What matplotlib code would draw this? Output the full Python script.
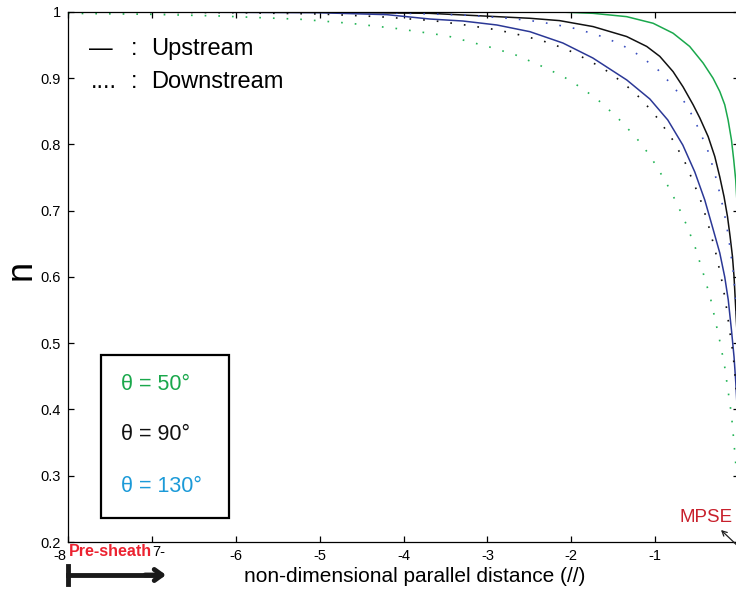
import matplotlib
matplotlib.use("Agg")
import matplotlib.pyplot as plt
from matplotlib.lines import Line2D

plt.rcParams['font.family'] = ['Liberation Sans', 'DejaVu Sans']

# Density profiles along the parallel direction
x_up_50 = [-8, -2.14, -1.74, -1.34, -1.024, -0.786, -0.588, -0.428, -0.309, -0.229,
           -0.170, -0.130, -0.090, -0.063, -0.039, 0]
n_up_50 = [1.0, 1.0, 0.998, 0.993, 0.983, 0.968, 0.948, 0.923, 0.900, 0.880,
           0.860, 0.837, 0.807, 0.777, 0.746, 0.66]

x_up_90 = [-8, -5, -3.69, -2.49, -2.14, -1.74, -1.34, -1.10, -0.944, -0.786, -0.667,
           -0.547, -0.467, -0.368, -0.289, -0.229, -0.178, -0.137, -0.106, -0.078, -0.059, 0]
n_up_90 = [1.0, 0.9995, 0.998, 0.9905, 0.987, 0.978, 0.963, 0.948, 0.933, 0.910, 0.887,
           0.860, 0.840, 0.812, 0.782, 0.751, 0.721, 0.691, 0.661, 0.631, 0.600, 0.46]

x_up_130 = [-8, -7.02, -5.03, -4.2, -3.685, -3.292, -2.887, -2.493, -2.100, -1.743,
            -1.338, -1.063, -0.849, -0.670, -0.527, -0.408, -0.313, -0.229, -0.170,
            -0.128, -0.090, -0.059, -0.038, 0]
n_up_130 = [1.0, 1.0, 0.999, 0.996, 0.9894, 0.9864, 0.9804, 0.9703, 0.9532, 0.9306,
            0.8974, 0.8687, 0.8370, 0.7992, 0.7585, 0.7162, 0.6740, 0.6362, 0.6000,
            0.5653, 0.5200, 0.4792, 0.4400, 0.35]

x_dn_50 = [-8, -7.02, -6.2, -5.23, -4.64, -4.08, -3.48, -3.21, -2.94, -2.66, -2.40,
           -2.10, -1.86, -1.64, -1.43, -1.23, -1.06, -0.87, -0.74, -0.62, -0.52, -0.42,
           -0.34, -0.28, -0.22, -0.17, -0.13, -0.09, -0.06, -0.04, 0]
n_dn_50 = [0.998, 0.9965, 0.994, 0.989, 0.983, 0.975, 0.964, 0.955, 0.946, 0.935, 0.921,
           0.903, 0.884, 0.863, 0.838, 0.811, 0.783, 0.743, 0.711, 0.677, 0.644, 0.603,
           0.568, 0.533, 0.498, 0.464, 0.428, 0.392, 0.350, 0.320, 0.26]

x_dn_90 = [-8, -6, -5, -4.3, -3.65, -3.24, -2.88, -2.60, -2.33, -2.06, -1.87, -1.62,
           -1.38, -1.16, -0.96, -0.79, -0.65, -0.54, -0.44, -0.36, -0.285, -0.213,
           -0.161, -0.11, -0.07, -0.05, 0]
n_dn_90 = [1.0, 0.999, 0.997, 0.993, 0.987, 0.980, 0.973, 0.965, 0.956, 0.944, 0.932, 0.915,
           0.893, 0.868, 0.838, 0.807, 0.775, 0.742, 0.710, 0.676, 0.641, 0.600,
           0.564, 0.518, 0.483, 0.455, 0.38]

x_dn_130 = [-8, -5, -4.3, -3.65, -3.22, -2.80, -2.51, -2.23, -1.95, -1.68, -1.42, -1.18,
            -0.96, -0.765, -0.607, -0.467, -0.36, -0.28, -0.213, -0.154, -0.11, -0.071,
            -0.056, 0]
n_dn_130 = [1.0, 0.9995, 0.999, 0.997, 0.995, 0.991, 0.9875, 0.982, 0.975, 0.965, 0.952, 0.934,
            0.912, 0.885, 0.856, 0.820, 0.787, 0.752, 0.718, 0.683, 0.647, 0.611,
            0.590, 0.50]

x_ticks = [-8, -7, -6, -5, -4, -3, -2, -1, 0]
x_tick_labels = ['', '', '-6', '-5', '-4', '-3', '-2', '-1', '']
y_ticks = [0.2, 0.3, 0.4, 0.5, 0.6, 0.7, 0.8, 0.9, 1.0]
y_tick_labels = ['0.2', '0.3', '0.4', '0.5', '0.6', '0.7', '0.8', '0.9', '1']

GREEN = '#1aa84c'
GREEN_DOT = '#22b455'
BLUE = '#2b3896'
BLUE_DOT = '#3a4fbf'
BLACK = '#111111'
CYAN = '#1b9ad8'
RED = '#ec2230'
DARKRED = '#c8202c'

fig = plt.figure(figsize=(7.36, 5.90), dpi=100)
W, H = 736.0, 590.0
ax = fig.add_axes([68 / W, 48 / H, 671 / W, 530 / H])

lw = 1.1
dots = (0, (1, 7.2))
ax.plot(x_up_50, n_up_50, color=GREEN, lw=lw)
ax.plot(x_up_90, n_up_90, color=BLACK, lw=lw)
ax.plot(x_up_130, n_up_130, color=BLUE, lw=lw)
ax.plot(x_dn_50, n_dn_50, color=GREEN_DOT, lw=1.2, linestyle=dots)
ax.plot(x_dn_90, n_dn_90, color=BLACK, lw=1.2, linestyle=dots)
ax.plot(x_dn_130, n_dn_130, color=BLUE_DOT, lw=1.2, linestyle=dots)

ax.set_xlim(-8, 0)
ax.set_ylim(0.2, 1.0)
ax.set_xticks(x_ticks)
ax.set_xticklabels(x_tick_labels)
ax.set_yticks(y_ticks)
ax.set_yticklabels(y_tick_labels)
ax.tick_params(direction='in', length=4, width=0.9, top=True, right=True,
               labelsize=10.5, pad=5)
for s in ax.spines.values():
    s.set_linewidth(0.9)
ax.set_xlabel('non-dimensional parallel distance (//)', fontsize=15)
ax.xaxis.set_label_coords(0.517, -0.047)
ax.set_ylabel('n', fontsize=26)
ax.yaxis.set_label_coords(-0.07, 0.513)
ax.yaxis.label.set_va('center')

# Line-style key
fs_key = 17
fig.text(89 / W, 1 - 49 / H, '\u2014', fontsize=fs_key, va='center', ha='left')
fig.text(131 / W, 1 - 49 / H, ':', fontsize=fs_key, va='center', ha='left')
fig.text(151 / W, 1 - 49 / H, 'Upstream', fontsize=fs_key, va='center', ha='left')
fig.text(91 / W, 1 - 82 / H, '....', fontsize=fs_key, va='center', ha='left')
fig.text(131 / W, 1 - 82 / H, ':', fontsize=fs_key, va='center', ha='left')
fig.text(151 / W, 1 - 82 / H, 'Downstream', fontsize=fs_key, va='center', ha='left')

# Angle key box
box = plt.Rectangle((101 / W, 1 - 518 / H), 128 / W, 163 / H, transform=fig.transFigure,
                    fill=True, facecolor='white', edgecolor='black', lw=1.6)
fig.add_artist(box)
fig.text(121 / W, 1 - 384 / H, '\u03b8 = 50\u00b0', fontsize=15.5, color=GREEN, va='center')
fig.text(121 / W, 1 - 435 / H, '\u03b8 = 90\u00b0', fontsize=15.5, color=BLACK, va='center')
fig.text(121 / W, 1 - 486 / H, '\u03b8 = 130\u00b0', fontsize=15.5, color=CYAN, va='center')

# Bottom annotations
fig.text(66 / W, 1 - 556 / H, '-8', fontsize=10.5, ha='right', va='center')
fig.text(152 / W, 1 - 552 / H, '7-', fontsize=10.5, ha='left', va='center')
fig.text(69 / W, 1 - 551 / H, 'Pre-sheath', fontsize=11.5, color=RED, ha='left', va='center',
         family=['Liberation Sans Narrow', 'Liberation Sans'], weight='bold')
fig.add_artist(Line2D([68 / W, 68 / W], [1 - 566 / H, 1 - 584 / H],
                      transform=fig.transFigure, color='#1a1a1a', lw=3.5))
fig.add_artist(Line2D([68 / W, 158 / W], [1 - 575 / H, 1 - 575 / H],
                      transform=fig.transFigure, color='#1a1a1a', lw=3.5))
ax.annotate('', xy=(166 / W, 1 - 575 / H), xytext=(145 / W, 1 - 575 / H),
            xycoords='figure fraction', textcoords='figure fraction',
            arrowprops=dict(arrowstyle='->,head_length=0.55,head_width=0.4',
                            color='#1a1a1a', lw=3.5, shrinkA=0, shrinkB=0))
fig.text(706 / W, 1 - 518 / H, 'MPSE', fontsize=13.5, color=DARKRED, ha='center', va='center',
         family=['Liberation Sans Narrow', 'Liberation Sans'])
ax.annotate('', xy=(721 / W, 1 - 530 / H), xytext=(742 / W, 1 - 550 / H),
            xycoords='figure fraction', textcoords='figure fraction',
            arrowprops=dict(arrowstyle='->,head_length=0.35,head_width=0.18',
                            color='#222222', lw=0.9, shrinkA=0, shrinkB=0))

fig.savefig('out.png', dpi=100)
